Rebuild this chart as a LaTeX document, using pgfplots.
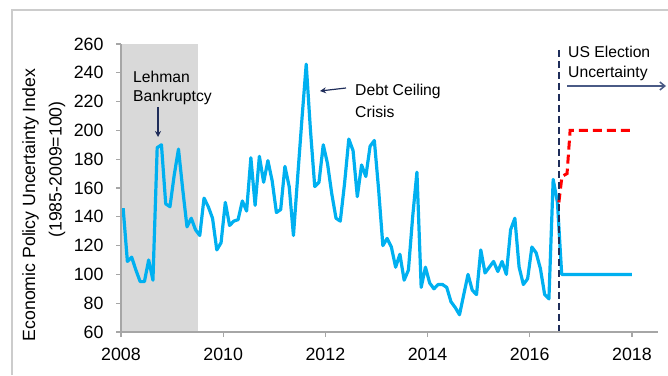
\documentclass[border=0pt]{standalone}
\usepackage{pgfplots}
\pgfplotsset{compat=1.18}
\usepackage{pgfplotstable}
\usepackage{fontspec}
\setmainfont{Liberation Sans}
\usetikzlibrary{arrows.meta}
\definecolor{epublue}{HTML}{00B0F0}
\definecolor{shade}{HTML}{D9D9D9}
\definecolor{axgray}{HTML}{A6A6A6}
\definecolor{navy}{HTML}{1F2D5A}
\definecolor{slate}{HTML}{4A5A85}
\pgfplotstableread{
m v
1 146
2 109
3 112
4 103
5 95
6 95
7 110
8 96
9 188
10 190
11 149
12 147
13 169
14 187
15 159
16 133
17 139
18 131
19 127
20 153
21 147
22 139
23 117
24 122
25 150
26 134
27 137
28 138
29 151
30 144
31 181
32 148
33 182
34 164
35 179
36 165
37 143
38 145
39 175
40 161
41 127
42 168
43 208
44 246
45 200
46 161
47 164
48 190
49 177
50 156
51 139
52 137
53 163
54 194
55 186
56 154
57 176
58 168
59 189
60 193
61 159
62 120
63 125
64 119
65 105
66 114
67 96
68 103
69 140
70 171
71 91
72 105
73 94
74 90
75 93
76 93
77 91
78 81
79 77
80 72
81 86
82 100
83 89
84 86
85 117
86 101
87 105
88 109
89 102
90 109
91 100
92 131
93 139
94 105
95 93
96 97
97 119
98 115
99 104
100 86
101 83
102 166
103 150
104 100
120.5 100
}\epu
\begin{document}
\begin{tikzpicture}[x=1pt,y=1pt]
\useasboundingbox (0,0) rectangle (668,375);
\draw[gray!40, line width=1.5pt] (12,0) -- (12,365) -- (668,365);
\begin{axis}[
  at={(121pt,43pt)}, anchor=south west,
  scale only axis, width=537pt, height=288pt,
  xmin=2008, xmax=2018.51, ymin=60, ymax=260,
  axis lines=left, axis line style={-, axgray, line width=1.2pt},
  axis on top,
  xtick={2008,2010,...,2018}, ytick={60,80,...,260},
  tick align=outside, major tick length=5pt,
  tick style={axgray, line width=1.2pt},
  /pgf/number format/.cd, 1000 sep={}, assume math mode=true,
  /pgfplots/.cd,
  ticklabel style={font=\fontsize{17.8}{19}\selectfont, text=black},
  yticklabel style={xshift=-9pt},
  xticklabel style={yshift=-8pt},
  clip=false,
]
\addplot[draw=none, fill=shade, forget plot] coordinates {(2008,60) (2009.5,60) (2009.5,260) (2008,260)} -- cycle;
\addplot[epublue, line width=3.2pt, line join=round] table[x expr={2008+(\thisrow{m}-0.5)/12}, y=v] {\epu};
\addplot[red, line width=3pt, dash pattern=on 9pt off 5pt] coordinates {(2016.57,150) (2016.63,168) (2016.73,170) (2016.79,200) (2018,200)};
\draw[navy, line width=2pt, dash pattern=on 7pt off 4pt] (axis cs:2016.57,256) -- (axis cs:2016.57,60);
\end{axis}
\node[rotate=90, anchor=base, font=\fontsize{17.7}{20}\selectfont] at (35,170) {Economic Policy Uncertainty Index};
\node[rotate=90, anchor=base, font=\fontsize{17.7}{20}\selectfont] at (61.5,205.5) {(1985-2009=100)};
\begin{scope}[every node/.style={anchor=base west, inner sep=0pt, font=\fontsize{15.7}{18}\selectfont}]
\node at (133,292) {Lehman};
\node at (133,273.3) {Bankruptcy};
\node at (355,279) {Debt Ceiling};
\node at (355,257.7) {Crisis};
\node at (568,317.7) {US Election};
\node at (568,297.7) {Uncertainty};
\end{scope}
\draw[navy, line width=1.2pt, -{Stealth[length=6pt,width=6pt]}] (158,268) -- (158,238);
\draw[navy, line width=1.2pt, -{Stealth[length=6pt,width=6pt]}] (346,287) -- (320,284);
\draw[slate, line width=1.5pt, -{Straight Barb[length=5pt,width=8pt]}] (567,289) -- (666,289);
\end{tikzpicture}
\end{document}
